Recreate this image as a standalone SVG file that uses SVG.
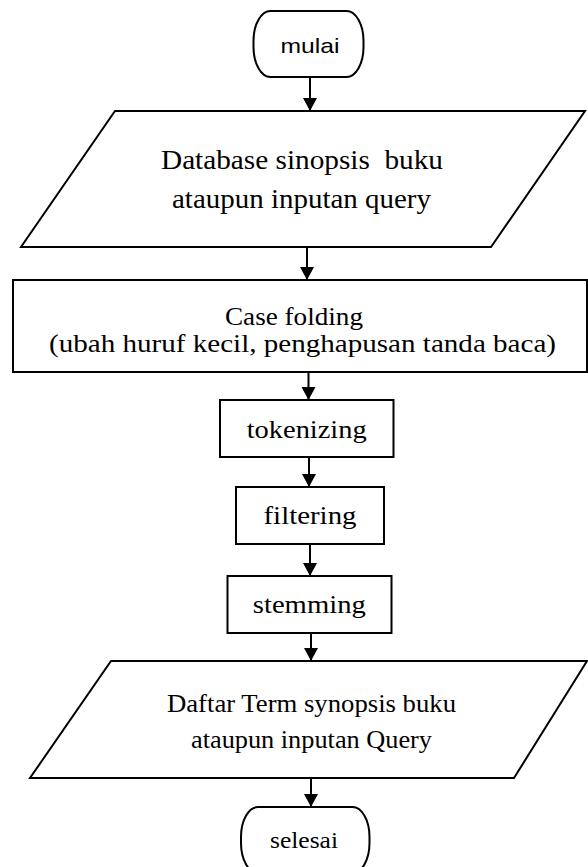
<svg xmlns="http://www.w3.org/2000/svg" width="588" height="867" viewBox="0 0 588 867">
<style>
.shape{fill:#fff;stroke:#000;stroke-width:2}
.t{font-family:"Liberation Serif","Times New Roman",serif;fill:#000;text-anchor:middle}
.s{font-family:"Liberation Sans",Arial,sans-serif;fill:#000;text-anchor:middle}
.c{stroke:#000;stroke-width:2;fill:none;marker-end:url(#ah)}
</style>
<defs>
<marker id="ah" markerUnits="userSpaceOnUse" markerWidth="14" markerHeight="14" refX="13" refY="7" orient="auto">
<path d="M0,0 L13,7 L0,14 z" fill="#000"/>
</marker>
</defs>
<rect width="588" height="867" fill="#fff"/>
<g id="connectors">
<line class="c" x1="310" y1="77" x2="310" y2="111"/>
<line class="c" x1="307" y1="247" x2="307" y2="280"/>
<line class="c" x1="308.5" y1="372" x2="308.5" y2="400"/>
<line class="c" x1="309" y1="457" x2="309" y2="487"/>
<line class="c" x1="310" y1="544" x2="310" y2="576"/>
<line class="c" x1="311" y1="633" x2="311" y2="661"/>
<line class="c" x1="311" y1="778" x2="311" y2="807"/>
</g>
<g id="mulai">
<rect class="shape" x="253.5" y="11" width="110" height="66" rx="17" ry="30"/>
<text class="s" x="310" y="53" font-size="21" textLength="59" lengthAdjust="spacingAndGlyphs">mulai</text>
</g>
<g id="input-database">
<polygon class="shape" points="115,111 585,111 491,247 21,247"/>
<text class="t" x="302" y="169" font-size="27" textLength="282" lengthAdjust="spacingAndGlyphs" xml:space="preserve">Database sinopsis  buku</text>
<text class="t" x="301.5" y="208" font-size="27" textLength="259" lengthAdjust="spacingAndGlyphs">ataupun inputan query</text>
</g>
<g id="case-folding">
<rect class="shape" x="13" y="280" width="574" height="92"/>
<text class="t" x="294" y="325" font-size="26" textLength="138" lengthAdjust="spacingAndGlyphs">Case folding</text>
<text class="t" x="302.5" y="352" font-size="26" textLength="507" lengthAdjust="spacingAndGlyphs">(ubah huruf kecil, penghapusan tanda baca)</text>
</g>
<g id="tokenizing">
<rect class="shape" x="220" y="400" width="173.5" height="57"/>
<text class="t" x="306.7" y="438" font-size="25.5" textLength="120" lengthAdjust="spacingAndGlyphs">tokenizing</text>
</g>
<g id="filtering">
<rect class="shape" x="236" y="487" width="148" height="57"/>
<text class="t" x="310" y="524" font-size="25.5" textLength="93" lengthAdjust="spacingAndGlyphs">filtering</text>
</g>
<g id="stemming">
<rect class="shape" x="227.5" y="576" width="164" height="57"/>
<text class="t" x="309.3" y="613" font-size="25.5" textLength="113" lengthAdjust="spacingAndGlyphs">stemming</text>
</g>
<g id="output-term">
<polygon class="shape" points="111,661 587,661 514,778 30,778"/>
<text class="t" x="311.5" y="712" font-size="24.5" textLength="289" lengthAdjust="spacingAndGlyphs">Daftar Term synopsis buku</text>
<text class="t" x="311.5" y="748" font-size="24.5" textLength="241" lengthAdjust="spacingAndGlyphs">ataupun inputan Query</text>
</g>
<g id="selesai">
<rect class="shape" x="241" y="807" width="128.5" height="66" rx="17" ry="30"/>
<text class="t" x="304" y="848" font-size="24" textLength="68" lengthAdjust="spacingAndGlyphs">selesai</text>
</g>
</svg>
